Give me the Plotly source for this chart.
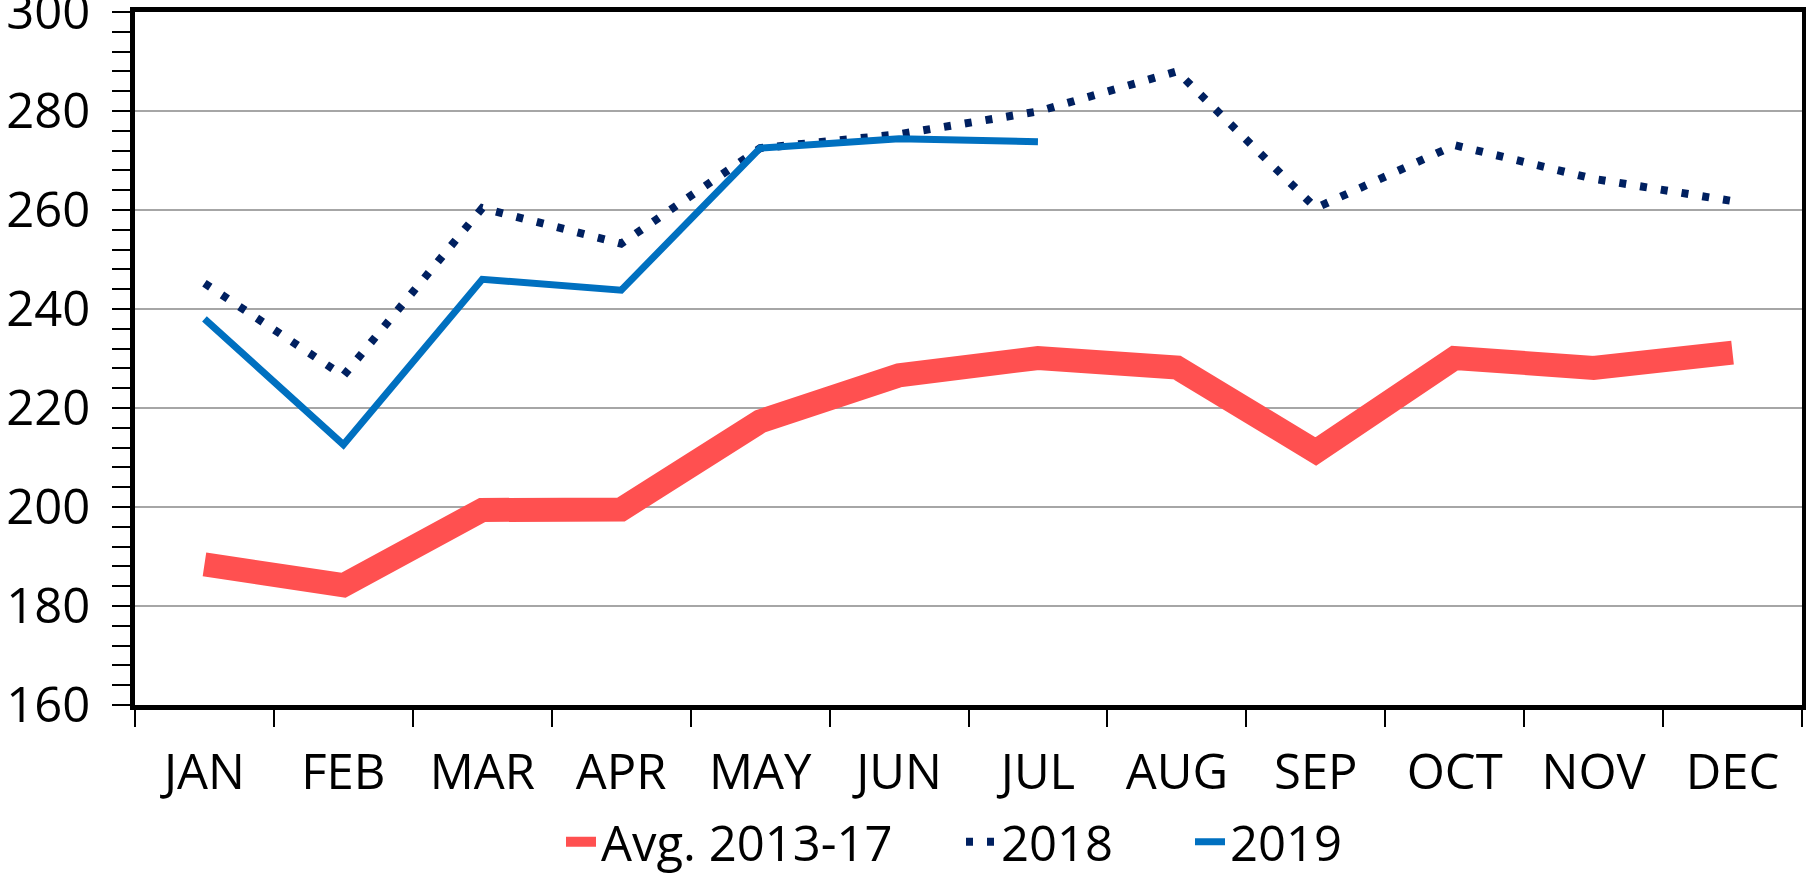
import plotly.graph_objects as go

months = ["JAN", "FEB", "MAR", "APR", "MAY", "JUN", "JUL", "AUG", "SEP", "OCT", "NOV", "DEC"]
avg_2013_17 = [188.4, 184.2, 199.4, 199.5, 217.3, 226.6, 230.1, 228.2, 211.2, 230.1, 228.1, 231.2]
y2018 = [245.2, 226.5, 260.4, 253.2, 272.5, 275.3, 279.9, 288.0, 260.4, 273.1, 266.3, 261.8]
y2019 = [238.0, 212.6, 246.0, 243.8, 272.5, 274.4, 273.8]
months_2019 = months[:len(y2019)]

FONT = "Open Sans"
FS = 49
L, R, T, B, W, H = 135, 4, 12, 172, 1806, 877
PW, PH = W - L - R, H - T - B


def px_x(px):
    return (px - L) / PW


def px_y(py):
    return (H - B - py) / PH


fig = go.Figure()
fig.add_trace(go.Scatter(x=months, y=avg_2013_17, mode="lines", name="Avg. 2013-17",
                         line=dict(color="#FF5050", width=24), legend="legend"))
fig.add_trace(go.Scatter(x=months, y=y2018, mode="lines", name="2018",
                         line=dict(color="#002060", width=8, dash="7px,14px"), legend="legend2"))
fig.add_trace(go.Scatter(x=months_2019, y=y2019, mode="lines", name="2019",
                         line=dict(color="#0070C0", width=7), legend="legend3"))

leg_common = dict(orientation="h", yanchor="middle", xanchor="left",
                  font=dict(family=FONT, size=FS, color="black"),
                  itemwidth=30, bgcolor="rgba(0,0,0,0)", borderwidth=0)
ly = px_y(842)

fig.update_layout(
    width=W, height=H,
    margin=dict(l=L, r=R, t=T, b=B, autoexpand=False),
    paper_bgcolor="white", plot_bgcolor="white",
    font=dict(family=FONT, size=FS, color="black"),
    showlegend=True,
    legend=dict(x=px_x(561), y=ly, **leg_common),
    legend2=dict(x=px_x(961), y=ly, **leg_common),
    legend3=dict(x=px_x(1190), y=ly, **leg_common),
    xaxis=dict(type="category", range=[-0.5, 11.5], showgrid=False, automargin=False,
               showline=True, linecolor="black", linewidth=5, mirror=True,
               ticks="outside", tickson="boundaries", ticklen=17, tickwidth=2, tickcolor="black",
               ticklabelstandoff=20, zeroline=False),
    yaxis=dict(range=[160, 300], tick0=160, dtick=20, showgrid=True, automargin=False,
               gridcolor="#A6A6A6", gridwidth=2,
               showline=True, linecolor="black", linewidth=5, mirror=True,
               ticks="outside", ticklen=18, tickwidth=2, tickcolor="black",
               ticklabelstandoff=12, ticklabeloverflow="allow", zeroline=False,
               minor=dict(ticks="outside", tick0=160, dtick=4, ticklen=18, tickwidth=2,
                          tickcolor="black", showgrid=False)),
)

fig.write_html("out.html", config={"displayModeBar": False},
               post_script="document.body.style.margin='0';document.body.style.overflow='hidden';")
